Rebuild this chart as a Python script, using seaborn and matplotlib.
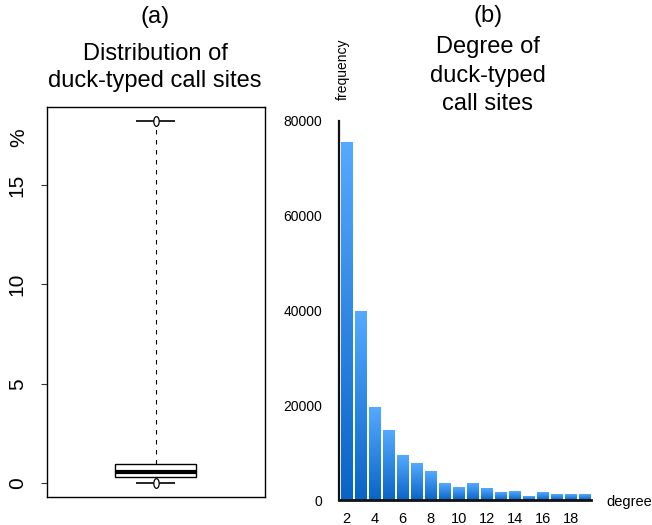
import numpy as np
import matplotlib
matplotlib.use("Agg")
import matplotlib.pyplot as plt
from matplotlib.colors import LinearSegmentedColormap
from matplotlib.path import Path
from matplotlib.transforms import Affine2D
import seaborn as sns

# (a) share of duck-typed call sites, % (min, q1, median, q3, max)
share_pct = [0.0, 0.33, 0.55, 0.955, 18.2]

# (b) degree of duck-typed call sites
degrees = list(range(2, 20))
frequency = [75500, 39700, 19600, 14700, 9300, 7600, 6100, 3400, 2700,
             3400, 2500, 1500, 1700, 800, 1500, 1100, 1100, 1100]
xtick_labels = ["2", "4", "6", "8", "10", "12", "14", "16", "18"]
ytick_values = [0, 20000, 40000, 60000, 80000]

sns.set_theme(style="white")
plt.rcParams['font.family'] = ['Liberation Sans', 'DejaVu Sans']
plt.rcParams['text.color'] = 'black'
plt.rcParams['xtick.color'] = 'black'
plt.rcParams['ytick.color'] = 'black'
plt.rcParams['xtick.labelcolor'] = 'black'
plt.rcParams['ytick.labelcolor'] = 'black'

W, H = 652, 525
fig = plt.figure(figsize=(W / 100, H / 100), dpi=100)


def fx(px):
    return px / W


def fy(py):
    return 1 - py / H


# ---- (a) boxplot ----
ax1 = fig.add_axes([fx(46.7), fy(497.3), fx(265 - 46.7), (497.3 - 106.7) / H])
sns.boxplot(y=share_pct, ax=ax1, whis=(0, 100), width=0.37, color="white",
            linecolor="black", linewidth=1, showcaps=False, fliersize=0,
            medianprops={'linewidth': 3, 'color': 'black'},
            whiskerprops={'linestyle': (0, (4, 5)), 'linewidth': 0.8},
            boxprops={'facecolor': 'white', 'edgecolor': 'black'})
lo, hi = min(share_pct), max(share_pct)
ax1.hlines([lo, hi], -0.09, 0.09, color="black", linewidth=1.2, zorder=5)
oval = Path.unit_circle().transformed(Affine2D().scale(0.55, 1.0))
ax1.plot([0, 0], [lo, hi], linestyle="none", marker=oval, markersize=7,
         markerfacecolor="white", markeredgecolor="black", markeredgewidth=0.9,
         zorder=6)
ax1.set_xlim(-0.5, 0.5)
ax1.set_ylim(-0.70, 18.93)
ax1.set_yticks([0, 5, 10, 15])
ax1.set_xticks([])
ax1.tick_params(axis='y', left=True, length=4.3, width=0.8, color="#333333",
                pad=10, labelsize=15, labelrotation=90)
for lab in ax1.get_yticklabels():
    lab.set_va("center")
for sp in ax1.spines.values():
    sp.set_visible(True)
    sp.set_color("black")
    sp.set_linewidth(1.0)
ax1.set_ylabel("")
fig.text(fx(18.5), fy(138), "%", rotation=90, ha="center", va="center", fontsize=15)

# ---- (b) bar chart ----
ax2 = fig.add_axes([fx(339), fy(500), fx(591 - 339), (500 - 121) / H])
sns.barplot(x=degrees, y=frequency, ax=ax2, width=0.85, color="#3A8EE6",
            saturation=1)
cmap = LinearSegmentedColormap.from_list("bluegrad", ["#0864C6", "#55AAFF"])
grad = np.linspace(0, 1, 256).reshape(-1, 1)
for bar in list(ax2.patches):
    x0, y0 = bar.get_x(), bar.get_y()
    w, h = bar.get_width(), bar.get_height()
    ax2.imshow(grad, extent=[x0, x0 + w, y0, y0 + h], origin="lower",
               cmap=cmap, aspect="auto", zorder=bar.get_zorder() + 0.1)
ax2.set_xlim(-0.55, 17.45)
ax2.set_ylim(0, 80000)
ax2.set_xticks([d - 2 for d in range(2, 20, 2)])
ax2.set_xticklabels(xtick_labels)
ax2.set_yticks(ytick_values)
ax2.set_yticklabels([str(v) for v in ytick_values])
ax2.tick_params(axis='x', bottom=False, length=0, pad=8.4, labelsize=10.5)
ax2.tick_params(axis='y', left=False, length=0, pad=12.2, labelsize=10)
for name in ["top", "right"]:
    ax2.spines[name].set_visible(False)
ax2.spines["left"].set_color("#111111")
ax2.spines["left"].set_linewidth(1.6)
ax2.spines["bottom"].set_color("#111111")
ax2.spines["bottom"].set_linewidth(2.0)
ax2.set_xlabel("")
ax2.set_ylabel("")
fig.text(fx(343), fy(69), "frequency", rotation=90, ha="center", va="center", fontsize=10)
fig.text(fx(629), fy(502), "degree", ha="center", va="center", fontsize=10.5)

# ---- titles ----
fig.text(fx(155), fy(23), "(a)", ha="center", va="baseline", fontsize=17)
fig.text(fx(155), fy(60), "Distribution of", ha="center", va="baseline", fontsize=17)
fig.text(fx(155), fy(87), "duck-typed call sites", ha="center", va="baseline", fontsize=17)
fig.text(fx(488), fy(22), "(b)", ha="center", va="baseline", fontsize=17)
fig.text(fx(488), fy(53), "Degree of", ha="center", va="baseline", fontsize=17)
fig.text(fx(488), fy(82), "duck-typed", ha="center", va="baseline", fontsize=17)
fig.text(fx(488), fy(110), "call sites", ha="center", va="baseline", fontsize=17)

fig.savefig("out.png", dpi=100)
